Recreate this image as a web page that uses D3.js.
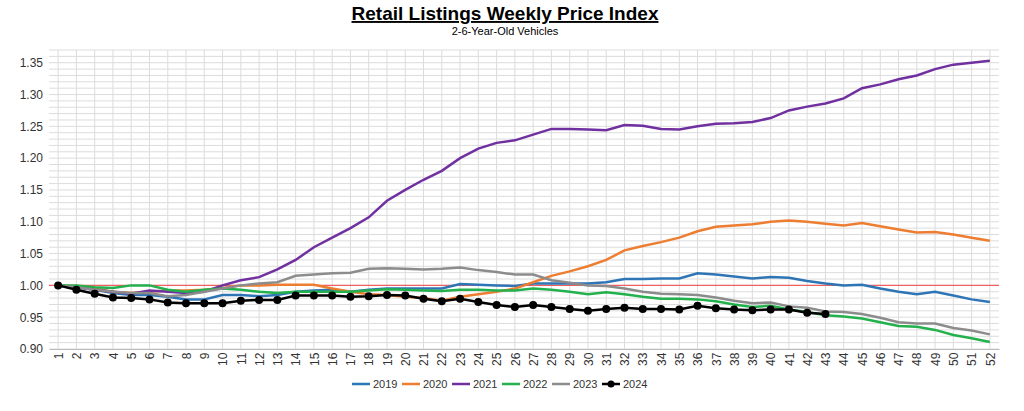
<!DOCTYPE html>
<html><head><meta charset="utf-8">
<script src="https://cdn.jsdelivr.net/npm/d3@7"></script>
<style>body{margin:0;background:#fff;font-family:Arial,"Liberation Sans",sans-serif}</style>
</head><body><div id="chart"></div>
<script>
const weeks = d3.range(1, 53);
const s2019 = [1.0,.998,.993,.988,.985,.985,.982,.978,.978,.985,.985,.983,.985,.99,.992,.993,.99,.993,.995,.995,.995,.995,1.002,1.001,1.0,.999,1.003,1.003,1.003,1.003,1.005,1.01,1.01,1.011,1.011,1.019,1.017,1.014,1.011,1.013,1.012,1.007,1.003,1.0,1.001,.995,.99,.986,.99,.984,.978,.974];
const s2020 = [1.0,.998,.995,.99,.988,.99,.992,.992,.993,.996,1.0,1.0,1.001,1.001,1.001,.995,.99,.986,.985,.982,.98,.976,.982,.986,.99,.995,1.005,1.015,1.022,1.03,1.04,1.055,1.062,1.068,1.075,1.085,1.092,1.094,1.096,1.1,1.102,1.1,1.097,1.094,1.098,1.093,1.088,1.083,1.084,1.08,1.075,1.07];
const s2021 = [1.0,.997,.993,.99,.987,.992,.99,.988,.99,1.0,1.008,1.013,1.025,1.04,1.06,1.075,1.09,1.107,1.133,1.15,1.166,1.18,1.2,1.215,1.224,1.228,1.237,1.246,1.246,1.245,1.244,1.252,1.251,1.246,1.245,1.25,1.254,1.255,1.257,1.263,1.275,1.281,1.286,1.294,1.31,1.316,1.324,1.33,1.34,1.347,1.35,1.353];
const s2022 = [1.0,1.0,.997,.996,1.0,1.0,.993,.99,.993,.995,.993,.99,.988,.99,.99,.99,.99,.992,.994,.993,.992,.991,.993,.993,.992,.992,.995,.993,.99,.986,.989,.986,.982,.979,.979,.978,.975,.97,.966,.968,.962,.958,.953,.951,.948,.942,.936,.935,.93,.922,.917,.911];
const s2023 = [1.0,.997,.993,.99,.988,.988,.983,.985,.99,.995,1.0,1.003,1.005,1.015,1.017,1.019,1.02,1.026,1.027,1.026,1.025,1.026,1.028,1.024,1.021,1.017,1.017,1.008,1.004,1.0,.999,.995,.99,.987,.986,.985,.981,.976,.972,.973,.967,.965,.959,.958,.955,.949,.942,.94,.94,.933,.929,.923];
const s2024 = [1.0,.993,.987,.981,.98,.978,.973,.972,.972,.972,.976,.977,.977,.984,.984,.984,.982,.983,.985,.984,.979,.975,.979,.974,.969,.966,.969,.966,.963,.96,.963,.965,.963,.963,.962,.968,.964,.962,.961,.962,.962,.957,.955];
const yTicks = [0.90,0.95,1.00,1.05,1.10,1.15,1.20,1.25,1.30,1.35];

const series = [
  { name: "2019", values: s2019, color: "#2e75b6" },
  { name: "2020", values: s2020, color: "#ed7d31" },
  { name: "2021", values: s2021, color: "#7030a0" },
  { name: "2022", values: s2022, color: "#22b14c" },
  { name: "2023", values: s2023, color: "#8c8c8c" },
  { name: "2024", values: s2024, color: "#000000" },
];

const width = 1024, height = 411;
const margin = { top: 50, right: 25, bottom: 62, left: 49 };

const svg = d3.select("#chart").append("svg").attr("width", width).attr("height", height);

const x = d3.scalePoint().domain(weeks).range([margin.left, width - margin.right]).padding(0.5);
const y = d3.scaleLinear().domain([0.9, 1.37]).range([height - margin.bottom, margin.top]);

// grid
const grid = svg.append("g");
grid.selectAll(".hg").data(d3.range(0.90, 1.3701, 0.01)).join("line")
  .attr("x1", margin.left).attr("x2", width - margin.right)
  .attr("y1", d => y(d)).attr("y2", d => y(d))
  .attr("stroke", "#dcdcdc").attr("stroke-width", 1);
grid.selectAll(".vg").data(weeks).join("line")
  .attr("x1", d => x(d)).attr("x2", d => x(d))
  .attr("y1", margin.top).attr("y2", height - margin.bottom)
  .attr("stroke", "#dcdcdc");

// baseline at 1.00
svg.append("line").attr("x1", margin.left).attr("x2", width - margin.right)
  .attr("y1", y(1)).attr("y2", y(1)).attr("stroke", "#f06060").attr("stroke-width", 1.2);

// axes
const gy = svg.append("g").attr("transform", `translate(${margin.left},0)`)
  .call(d3.axisLeft(y).tickValues(yTicks).tickFormat(d3.format(".2f")).tickSize(0).tickPadding(6));
gy.select(".domain").remove();
gy.selectAll("text").attr("font-size", 12).attr("fill", "#333");

const gx = svg.append("g").attr("transform", `translate(0,${height - margin.bottom})`)
  .call(d3.axisBottom(x).tickSize(0).tickPadding(4));
gx.select(".domain").attr("stroke", "#bbb");
gx.selectAll("text").attr("font-size", 12).attr("fill", "#333")
  .attr("transform", "rotate(-90)").attr("text-anchor", "end").attr("dx", "-0.3em").attr("dy", "-0.45em")
  .attr("x", 0).attr("y", 0).attr("dy", "0.35em");

// lines
const line = d3.line().x((d, i) => x(weeks[i])).y(d => y(d));
svg.selectAll(".series").data(series).join("path")
  .attr("fill", "none").attr("stroke", d => d.color).attr("stroke-width", 2.5)
  .attr("d", d => line(d.values));
svg.selectAll(".dot").data(s2024).join("circle")
  .attr("cx", (d, i) => x(weeks[i])).attr("cy", d => y(d)).attr("r", 4).attr("fill", "#000");

// title
svg.append("text").attr("x", 505).attr("y", 20).attr("text-anchor", "middle")
  .attr("font-size", 19).attr("font-weight", "bold").attr("text-decoration", "underline")
  .text("Retail Listings Weekly Price Index");
svg.append("text").attr("x", 505).attr("y", 35).attr("text-anchor", "middle")
  .attr("font-size", 11).text("2-6-Year-Old Vehicles");

// legend
const lg = svg.append("g").attr("transform", "translate(352,384)");
const item = lg.selectAll("g").data(series).join("g").attr("transform", (d, i) => `translate(${i * 50},0)`);
item.append("line").attr("x1", 0).attr("x2", 18).attr("stroke", d => d.color).attr("stroke-width", 2.5);
item.filter(d => d.name === "2024").append("circle").attr("cx", 9).attr("r", 3.5).attr("fill", "#000");
item.append("text").attr("x", 21).attr("dy", "0.35em").attr("font-size", 11).attr("fill", "#333").text(d => d.name);
</script></body></html>
